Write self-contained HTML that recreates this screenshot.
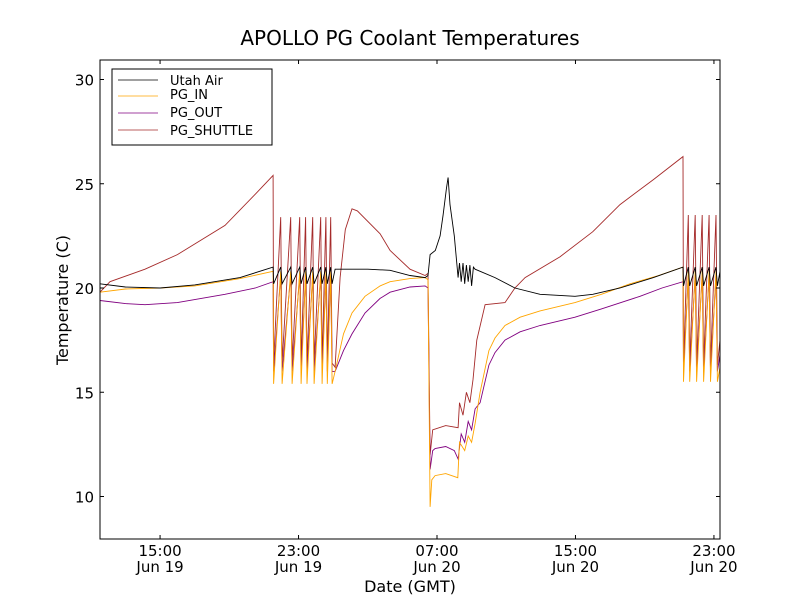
<!DOCTYPE html>
<html><head><meta charset="utf-8"><style>
body{margin:0;background:#fff;}
svg{display:block;font-family:"DejaVu Sans","Liberation Sans",sans-serif;}
</style></head><body>
<svg id="chart" width="800" height="600">
<rect width="800" height="600" fill="#fff"/>
<text x="410" y="45" font-size="20" text-anchor="middle">APOLLO PG Coolant Temperatures</text>
<g id="plot"></g>
<rect x="100" y="60" width="620" height="479" fill="none" stroke="#000" stroke-width="1"/>
<g id="axes"></g>
<text x="410" y="592" font-size="16" text-anchor="middle">Date (GMT)</text>
<text transform="translate(68,300) rotate(-90)" font-size="16" text-anchor="middle">Temperature (C)</text>
<g>
<rect x="112" y="69" width="160" height="76" fill="#fff" stroke="#000"/>
<g><line x1="118" y1="80" x2="158" y2="80" stroke="#000" stroke-width="0.8"/><text x="170" y="85" font-size="13">Utah Air</text></g>
<g><line x1="118" y1="96" x2="158" y2="96" stroke="#FFA500" stroke-width="0.8"/><text x="170" y="99" font-size="13">PG_IN</text></g>
<g><line x1="118" y1="113" x2="158" y2="113" stroke="#800080" stroke-width="0.8"/><text x="170" y="117" font-size="13">PG_OUT</text></g>
<g><line x1="118" y1="130" x2="158" y2="130" stroke="#A52A2A" stroke-width="0.8"/><text x="170" y="135" font-size="13">PG_SHUTTLE</text></g>
</g>
</svg>
<script>
// hours since Jun 19 00:00 GMT
const yTicks=[10,15,20,25,30];
const xTicks=[15,23,31,39,47];
const xTickTimes=["15:00","23:00","07:00","15:00","23:00"];
const xTickDates=["Jun 19","Jun 19","Jun 20","Jun 20","Jun 20"];
const osc1T=[22.05,22.63,23.15,23.49,23.90,24.36,24.66,24.94];
const osc2T=[45.6,46.0,46.4,46.8,47.2];
const airPre=[[11.53,20.2],[13,20.05],[15,20.0],[17,20.15],[19.62,20.5],[21.53,21.0]];
const airPost=[[25.11,20.9],[27,20.9],[28.29,20.85],[29.44,20.6],[30.31,20.5],[30.48,20.6],[30.6,21.6],[30.9,21.8],[31.18,22.5],[31.35,23.5],[31.55,24.8],[31.64,25.3],[31.75,24],[32.0,22.5],[32.22,20.5],[32.3,21.2],[32.4,20.3],[32.5,21.2],[32.6,20.2],[32.7,21.1],[32.8,20.3],[32.9,21.1],[33.0,20.1],[33.1,21.0],[33.2,20.9],[33.49,20.8],[34.35,20.5],[35.5,20.0],[36.95,19.7],[38.97,19.6],[40,19.7],[41.57,20.0],[43.5,20.5],[45.21,21.0]];
const inPre=[[11.53,19.8],[13,19.95],[15,20.0],[17,20.1],[19.62,20.45],[21.53,20.8]];
const inPost=[[25.11,16.0],[25.6,17.8],[26.09,18.8],[26.84,19.6],[27.71,20.1],[28.29,20.3],[29.44,20.45],[30.31,20.5],[30.48,20.4],[30.6,9.5],[30.7,10.8],[30.89,11.0],[31.5,11.1],[32.2,10.9],[32.3,12.6],[32.6,12.2],[32.8,12.9],[33.0,12.6],[33.2,13.5],[33.49,15.0],[34.0,17.0],[34.35,17.6],[34.93,18.2],[35.8,18.6],[36.95,18.9],[38.97,19.3],[40.5,19.7],[42.15,20.2],[43.8,20.6],[45.21,21.0]];
const outPre=[[11.53,19.4],[13,19.25],[14.13,19.2],[16,19.3],[18.75,19.7],[20.5,20.0],[21.53,20.3]];
const outPost=[[25.11,16.0],[25.6,17.0],[26.09,17.8],[26.84,18.8],[27.71,19.5],[28.29,19.8],[29.44,20.05],[30.31,20.1],[30.48,20.0],[30.6,11.3],[30.75,12.2],[30.89,12.3],[31.5,12.4],[32.0,12.2],[32.22,11.8],[32.4,13.0],[32.6,12.6],[32.8,13.6],[33.0,13.2],[33.2,14.2],[33.49,14.5],[34.0,16.3],[34.35,16.9],[34.93,17.5],[35.8,17.9],[36.95,18.2],[38.97,18.6],[40.5,19.0],[42.73,19.6],[44,20.0],[45.21,20.3]];
const shPre=[[11.53,19.8],[12.11,20.3],[14.13,20.9],[16,21.6],[18.75,23.0],[20.5,24.5],[21.53,25.4]];
const shPost=[[25.11,16.2],[25.4,20.5],[25.7,22.8],[26.09,23.8],[26.4,23.7],[27.71,22.6],[28.29,21.8],[29.44,20.9],[30.31,20.6],[30.48,20.7],[30.6,12.0],[30.75,13.2],[31.5,13.4],[32.22,13.3],[32.3,14.5],[32.5,13.9],[32.7,15.0],[32.9,14.5],[33.08,15.6],[33.3,17.5],[33.78,19.2],[34.93,19.3],[35.5,20.0],[36.09,20.5],[38.11,21.5],[40,22.7],[41.57,24.0],[43.5,25.2],[45.21,26.3]];

const X=t=>100+(t-11.53)*620/(47.35-11.53);
const Y=v=>288-(v-20)*20.85;
const NS='http://www.w3.org/2000/svg';
const plot=document.getElementById('plot');
const axes=document.getElementById('axes');

function oscSeries(pre,post,trs,peak,trough,startT){
  let pts=pre.slice();
  pts.push([startT+0.03,trough]);
  trs.forEach(t=>{pts.push([t-0.08,peak]);pts.push([t,trough]);});
  return pts.concat(post);
}
function endOsc(peak,trough,last){
  const p=[[45.24,trough]];
  osc2T.forEach(t=>{p.push([t-0.08,peak]);p.push([t,trough]);});
  p.push([47.35,last]);
  return p;
}
const series=[
 {name:'series-pg-shuttle',color:'#A52A2A',pts:oscSeries(shPre,shPost,osc1T,23.4,16.4,21.53).concat(endOsc(23.5,16.3,17.5))},
 {name:'series-pg-out',color:'#800080',pts:oscSeries(outPre,outPost,osc1T,20.6,16.0,21.53).concat(endOsc(20.6,16.0,16.8))},
 {name:'series-pg-in',color:'#FFA500',pts:oscSeries(inPre,inPost,osc1T,20.8,15.4,21.53).concat(endOsc(20.8,15.5,16.2))},
 {name:'series-utah-air',color:'#000',pts:oscSeries(airPre,airPost,osc1T,21.0,20.2,21.53).concat(endOsc(21.0,20.1,20.8))}
];
series.forEach(s=>{
  const p=document.createElementNS(NS,'polyline');
  p.setAttribute('points',s.pts.map(q=>X(q[0]).toFixed(1)+','+Y(q[1]).toFixed(1)).join(' '));
  p.setAttribute('fill','none');p.setAttribute('stroke',s.color);p.setAttribute('stroke-width','0.9');
  
  
  plot.appendChild(p);
});
yTicks.forEach(v=>{
  const y=Y(v);
  const g=document.createElementNS(NS,'g');
  
  
  g.innerHTML=`<line x1="100" y1="${y}" x2="104" y2="${y}" stroke="#000"/><line x1="716" y1="${y}" x2="720" y2="${y}" stroke="#000"/><text x="94" y="${y+6}" font-size="15" text-anchor="end">${v}</text>`;
  axes.appendChild(g);
});
xTicks.forEach((t,i)=>{
  const x=X(t);
  const g=document.createElementNS(NS,'g');
  
  
  g.innerHTML=`<line x1="${x}" y1="535" x2="${x}" y2="539" stroke="#000"/><line x1="${x}" y1="60" x2="${x}" y2="64" stroke="#000"/><text x="${x}" y="556" font-size="15" text-anchor="middle">${xTickTimes[i]}</text><text x="${x}" y="572" font-size="15" text-anchor="middle">${xTickDates[i]}</text>`;
  axes.appendChild(g);
});
</script>
</body></html>
